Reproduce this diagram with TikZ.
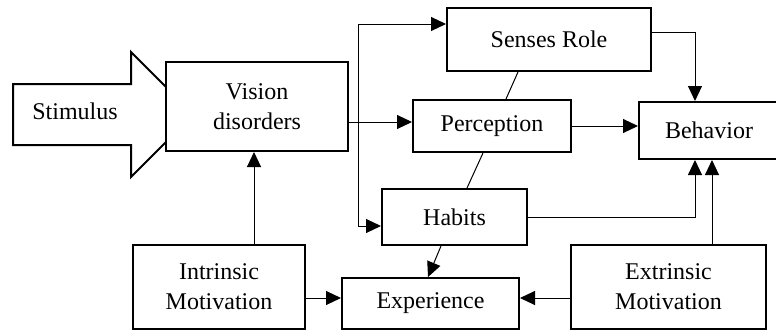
\documentclass[tikz,border=0pt]{standalone}
\usepackage{fontspec}
\setmainfont{Liberation Serif}
\usepackage{tikz}
\usetikzlibrary{arrows.meta}

\tikzset{
  box/.style={draw, line width=1pt, fill=white, align=center, inner sep=0pt,
    font=\fontsize{12}{15}\selectfont},
  arr/.style={line width=0.5pt, -{Triangle[length=7.5pt,width=7pt]}},
  link/.style={line width=0.5pt}
}

\begin{document}
\begin{tikzpicture}[x=0.5pt,y=-0.5pt]
    \useasboundingbox (0,0) rectangle (776,332);
    % big input arrow, its tip hides behind the vision box
    \draw[line width=1pt, fill=white] (13,84) -- (131,84) -- (131,52) -- (193.5,114.5)
        -- (131,177) -- (131,145) -- (13,145) -- cycle;
    \node[font=\fontsize{12}{15}\selectfont] (stim) at (75,111) {Stimulus};
    % boxes
    \node[box, minimum width=91pt, minimum height=44.5pt] (vision) at (257,106.5) {Vision\\disorders};
    \node[box, minimum width=102pt, minimum height=31.5pt] (senses) at (549,39.5) {Senses Role};
    \node[box, minimum width=79pt, minimum height=26pt] (perc) at (492,126) {Perception};
    \node[box, minimum width=70pt, minimum height=28.5pt] (behav) at (709,130.5) {Behavior};
    \node[box, minimum width=72.5pt, minimum height=28pt] (habits) at (454.5,217) {Habits};
    \node[box, minimum width=86pt, minimum height=42pt] (intr) at (219,287) {Intrinsic\\Motivation};
    \node[box, minimum width=88.5pt, minimum height=25.5pt] (exper) at (430.5,303.5) {Experience};
    \node[box, minimum width=97.5pt, minimum height=42pt] (extr) at (668.5,287) {Extrinsic\\Motivation};
    % helper points for the connectors
    \coordinate (split) at (358,122);
    \coordinate (up) at (358,24);
    \coordinate (down) at (358,226);
    \coordinate (b1) at (695,0);
    \coordinate (b2) at (712,0);
    \coordinate (lvl) at (0,298);
    % connectors
    \draw[link] (vision.east |- split) -- (split);
    \draw[arr] (split) -- (perc.west |- split);
    \draw[arr] (split) |- (senses.west |- up);
    \draw[arr] (split) |- (habits.west |- down);
    \draw[arr] ([yshift=3.75pt]senses.east) -| (behav.north -| b1);
    \draw[arr] (perc.east) -- (behav.west |- perc.east);
    \draw[arr] (habits.east) -| (behav.south -| b1);
    \draw[arr] (extr.north -| b2) -- (behav.south -| b2);
    \draw[link] ([xshift=-15.5pt]senses.south) -- ([xshift=7pt]perc.north);
    \draw[link] ([xshift=-4.5pt]perc.south) -- ([xshift=6.25pt]habits.north);
    \draw[arr] ([xshift=-6.75pt]habits.south) -- ([xshift=-1.25pt]exper.north);
    \draw[arr] (extr.west |- lvl) -- (exper.east |- lvl);
    \draw[arr] (intr.east |- lvl) -- (exper.west |- lvl);
    \draw[arr] ([xshift=-1.5pt]vision.south |- intr.north) -- ([xshift=-1.5pt]vision.south);
\end{tikzpicture}
\end{document}
